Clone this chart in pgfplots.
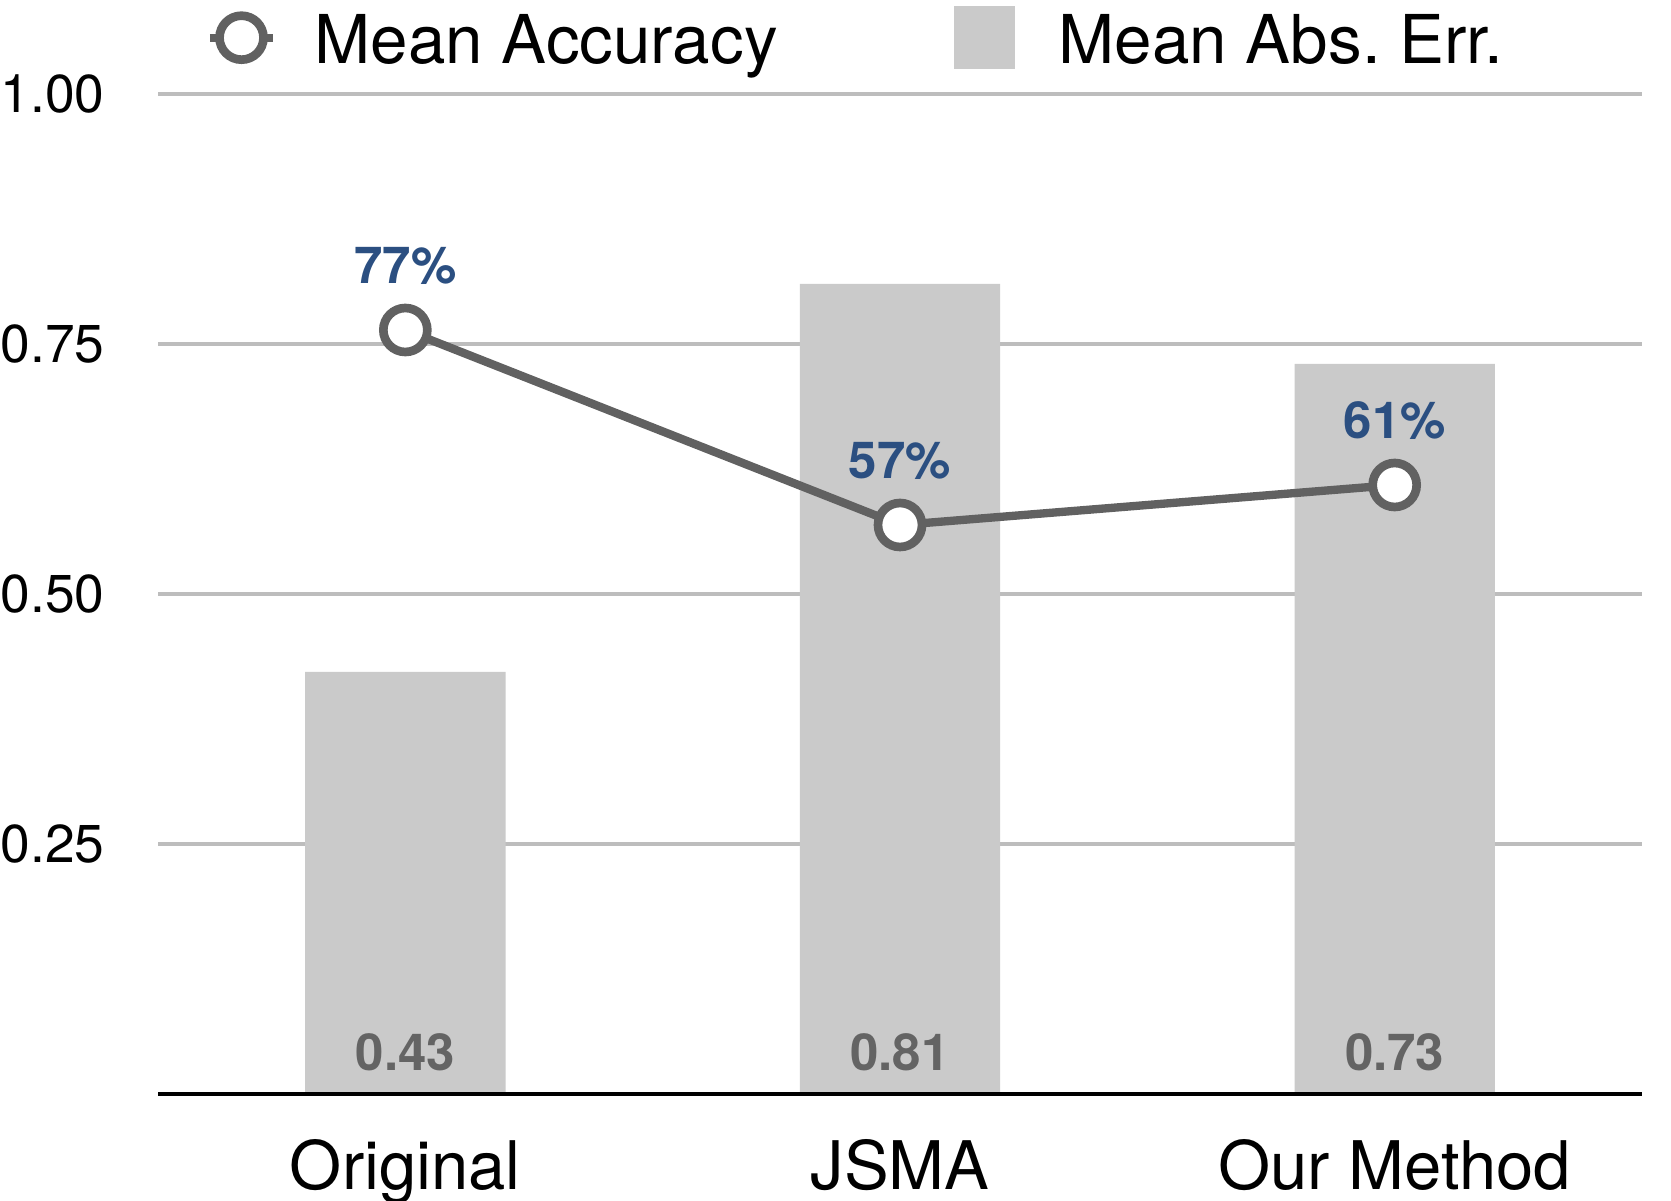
\documentclass[border=0pt]{standalone}
\usepackage{pgfplots}
\pgfplotsset{compat=1.18}
\usepackage{fontspec}
\setmainfont{TeX Gyre Heros}
\definecolor{barfill}{HTML}{CACACA}
\definecolor{gridgray}{HTML}{BDBDBD}
\definecolor{linegray}{HTML}{616161}
\definecolor{lblblue}{HTML}{2B4F81}
\definecolor{lblgray}{HTML}{646464}
\pgfplotsset{
  layers/mylayers/.define layer set={axis background,axis grid,axis ticks,axis tick labels,pre main,main,axis lines,axis descriptions,axis foreground}{/pgfplots/layers/standard},
  lineimg/.style={legend image code/.code={\draw[mark repeat=2, mark phase=2, ##1] plot coordinates {(0bp,1bp) (9.5bp,1bp) (19bp,1bp)};}},
  squareimg/.style={legend image code/.code={\fill[##1] (0bp,-8.45bp) rectangle (18.3bp,10.45bp); \path (20.1bp,1bp);}},
}
\begin{document}
\begin{tikzpicture}
\begin{axis}[
  set layers=mylayers,
  scale only axis, width=445.2bp, height=300bp,
  xmin=-0.5, xmax=2.5, ymin=0, ymax=1,
  axis x line*=bottom, axis y line*=left,
  x axis line style={black, line width=1.3bp, -},
  y axis line style={draw=none},
  xtick={0,1,2}, xticklabels={Original,JSMA,Our Method},
  ytick={0.25,0.5,0.75,1}, yticklabels={0.25,0.50,0.75,1.00},
  major tick length=0pt,
  ymajorgrids, grid style={gridgray, line width=1.2bp},
  yticklabel style={font=\fontsize{16bp}{18bp}\selectfont, inner sep=0pt, xshift=-15.9bp},
  xticklabel style={font=\fontsize{20.1bp}{23bp}\selectfont, inner sep=0pt, anchor=base, yshift=-28.5bp},
  legend columns=2,
  legend cell align=left,
  legend style={draw=none, fill=none, inner sep=0pt, at={(0.0317,1.0563)}, anchor=west,
    font=\fontsize{20.2bp}{23bp}\selectfont, nodes={inner sep=0pt},
    /tikz/every odd column/.append style={column sep=11.2bp},
    /tikz/every even column/.append style={column sep=53bp}},
]
\addlegendimage{linegray, line width=2.5bp, mark=*, mark size=6.6bp,
  mark options={fill=white, draw=linegray, line width=2.6bp}, lineimg}
\addlegendentry{Mean Accuracy}
\addlegendimage{fill=barfill, draw=none, squareimg}
\addlegendentry{Mean Abs.\ Err.}

% Mean Abs. Err. bars
\addplot[ybar, bar width=0.405, fill=barfill, draw=none, forget plot]
  coordinates {(0,0.422) (1,0.81) (2,0.73)};
% bar value labels at the bottom
\addplot[draw=none, mark=none, forget plot, nodes near coords, point meta=explicit symbolic,
  every node near coord/.append style={font=\fontsize{15.3bp}{18bp}\selectfont\bfseries, text=lblgray, inner sep=0pt, yshift=6.6bp}]
  coordinates {(0,0) [0.43] (1,0) [0.81] (2,0) [0.73]};
% Mean Accuracy line
\addplot[linegray, line width=2.5bp, mark=*, mark size=6.6bp,
  mark options={fill=white, draw=linegray, line width=2.6bp}, forget plot,
  nodes near coords, point meta=explicit symbolic,
  every node near coord/.append style={font=\fontsize{15.3bp}{18bp}\selectfont\bfseries, text=lblblue, inner sep=0pt, yshift=12.4bp}]
  coordinates {(0,0.764) [77\%] (1,0.569) [57\%] (2,0.609) [61\%]};
\end{axis}
\pgfresetboundingbox
\path[use as bounding box] (-47.4bp,-32.1bp) rectangle (453.9bp,328.2bp);
\end{tikzpicture}
\end{document}
